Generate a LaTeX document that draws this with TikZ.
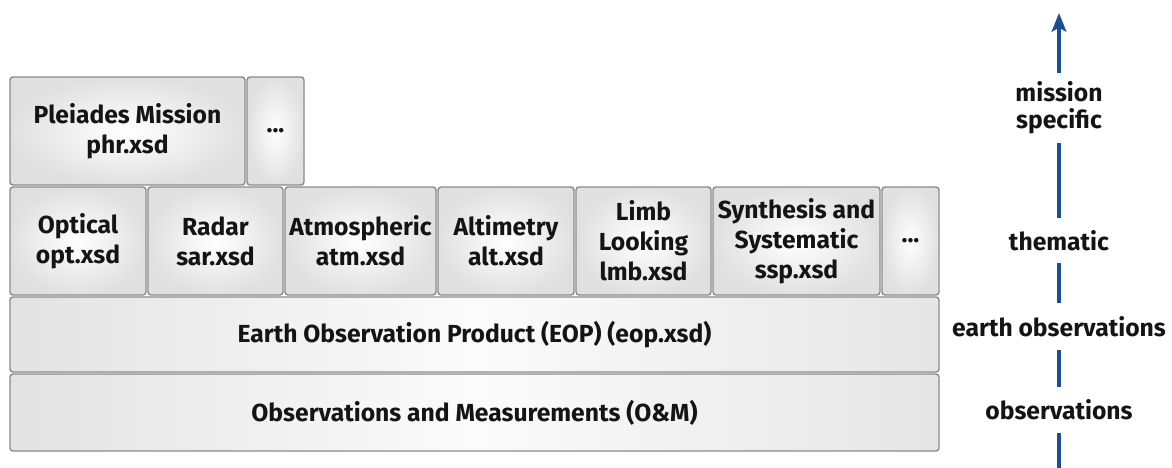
\documentclass[tikz,border=0pt]{standalone}
\usepackage{fontspec}
\setmainfont{Fira Sans}
\usetikzlibrary{arrows.meta}
\newdimen\px \px=0.75pt
\definecolor{esablue}{HTML}{1A4F96}
\definecolor{boxline}{HTML}{8A8A8A}
\definecolor{boxtext}{HTML}{141414}
\tikzset{
  schemabox/.style={draw=boxline, line width=1.4\px, rounded corners=3\px,
    inner sep=0pt, outer sep=0pt, align=center, text=boxtext,
    font=\fontsize{18.5}{22.5}\selectfont\bfseries,
    inner color=white, outer color=gray!24},
  layerbox/.style={schemabox, shading=axis, shading angle=90,
    left color=gray!22, right color=gray!20, middle color=gray!3},
  levellabel/.style={inner sep=0pt, outer sep=0pt, align=center, text=boxtext,
    font=\fontsize{18.5}{20.5}\selectfont\bfseries},
  levelline/.style={draw=esablue, line width=4\px}
}
\begin{document}
\begin{tikzpicture}[x=1\px, y=-1\px]
  \useasboundingbox (0,0) rectangle (1172,468);

  %%%%% mission specific row %%%%%
  \node[schemabox, minimum width=235\px, minimum height=108\px] (phr) at (127.5,131) {Pleiades Mission\\phr.xsd};
  \node[schemabox, minimum width=57\px, minimum height=108\px] (mdots) at (275.5,131) {...};

  %%%%% thematic row %%%%%
  \node[schemabox, minimum width=136\px, minimum height=108\px] (opt) at (78,241) {Optical\\opt.xsd};
  \node[schemabox, minimum width=135\px, minimum height=108\px] (sar) at (215.5,241) {Radar\\sar.xsd};
  \node[schemabox, minimum width=151\px, minimum height=108\px] (atm) at (360.5,241) {Atmospheric\\atm.xsd};
  \node[schemabox, minimum width=136\px, minimum height=108\px] (alt) at (506,241) {Altimetry\\alt.xsd};
  \node[schemabox, minimum width=135\px, minimum height=108\px] (lmb) at (643.5,241) {Limb\\Looking\\lmb.xsd};
  \node[schemabox, minimum width=167\px, minimum height=108\px] (ssp) at (796.5,241) {Synthesis and\\Systematic\\ssp.xsd};
  \node[schemabox, minimum width=57\px, minimum height=108\px] (tdots) at (910.5,241) {...};

  %%%%% base rows %%%%%
  \node[layerbox, minimum width=929\px, minimum height=75\px] (eop) at (474.5,334.5) {Earth Observation Product (EOP) (eop.xsd)};
  \node[layerbox, minimum width=929\px, minimum height=77\px] (om) at (474.5,412.5) {Observations and Measurements (O\&M)};

  %%%%% level arrow %%%%%
  \coordinate (lbot) at (1059,468);
  \coordinate (ltop) at (1059,13);
  \node[levellabel, minimum height=46\px] (lobs) at (1059,410) {observations};
  \node[levellabel, minimum height=47\px] (leo) at (1059,326.5) {earth observations};
  \node[levellabel, minimum height=45\px] (lthem) at (1059,240.5) {thematic};
  \node[levellabel, minimum height=70\px] (lmis) at (1059,108) {mission\\specific};

  \draw[levelline] (lbot) -- (lobs);
  \draw[levelline] (lobs) -- (leo);
  \draw[levelline] (leo) -- (lthem);
  \draw[levelline] (lthem) -- (lmis);
  \draw[levelline, -{Stealth[length=14pt, width=11pt, inset=3pt]}] (lmis) -- (ltop);
\end{tikzpicture}
\end{document}
